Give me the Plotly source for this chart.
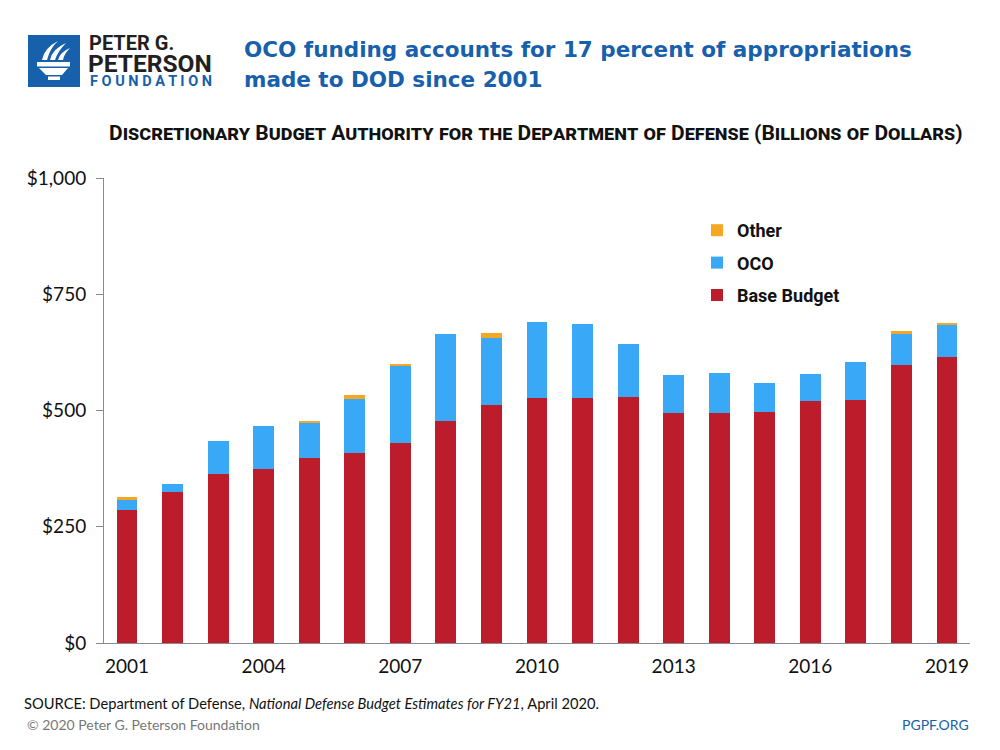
import plotly.graph_objects as go

years = list(range(2001, 2020))
base_budget = [285, 325, 363, 374, 398, 409, 430, 478, 511, 526, 526, 529, 494, 494, 496, 520, 522, 597, 615]
oco = [23, 18, 72, 92, 77, 116, 165, 187, 146, 164, 160, 115, 82, 86, 64, 59, 83, 67, 69]
other = [7, 0, 0, 0, 3, 9, 6, 0, 9, 0, 0, 0, 0, 0, 0, 0, 0, 6, 4]
tick_years = [2001, 2004, 2007, 2010, 2013, 2016, 2019]
y_ticks = [0, 250, 500, 750, 1000]
y_labels = ["$0", "$250", "$500", "$750", "$1,000"]

RED = "#BD1C2B"
BLUE = "#39A9F7"
ORANGE = "#F5A623"
NAVY = "#1760AC"

L, R, T, B = 104, 30, 178, 107
W, H = 1000, 750
PW, PH = W - L - R, H - T - B


def px(x):
    return (x - L) / PW


def py(y):
    return (H - B - y) / PH


xs = list(range(len(years)))
fig = go.Figure()
for name, vals, col, rank in [("Base Budget", base_budget, RED, 3), ("OCO", oco, BLUE, 2), ("Other", other, ORANGE, 1)]:
    fig.add_trace(go.Bar(x=xs, y=vals, name=name, marker=dict(color=col, line=dict(width=0)),
                         width=0.46, legendgroup=name, legendrank=rank))

head = "Roboto, sans-serif"
titlefont = "DejaVu Sans, sans-serif"
body = "Lato, Open Sans, sans-serif"

annotations = [
    dict(text="OCO funding accounts for 17 percent of appropriations",
         x=px(242), y=py(49), xanchor="left", yanchor="middle",
         font=dict(family=titlefont, size=21.5, color=NAVY, weight="bold")),
    dict(text="made to DOD since 2001",
         x=px(242), y=py(79), xanchor="left", yanchor="middle",
         font=dict(family=titlefont, size=21.5, color=NAVY, weight="bold")),
    dict(text="Discretionary Budget Authority for the Department of Defense (Billions of Dollars)",
         x=px(536), y=py(133), xanchor="center", yanchor="middle",
         font=dict(family=head, size=21, color="#111111", weight="bold", variant="small-caps")),
    dict(text="SOURCE: Department of Defense, <i>National Defense Budget Estimates for FY21</i>, April 2020.",
         x=px(22), y=py(703), xanchor="left", yanchor="middle",
         font=dict(family=body, size=14.7, color="#111111")),
    dict(text="© 2020 Peter G. Peterson Foundation",
         x=px(25), y=py(724), xanchor="left", yanchor="middle",
         font=dict(family=body, size=14, color="#777777")),
    dict(text="PGPF.ORG",
         x=px(971), y=py(724), xanchor="right", yanchor="middle",
         font=dict(family=body, size=14, color=NAVY)),
    dict(text="PETER G.", x=px(87), y=py(43.5), xanchor="left", yanchor="middle",
         font=dict(family=head, size=20, color="#231F20", weight="bold")),
    dict(text="PETERSON", x=px(86), y=py(63), xanchor="left", yanchor="middle",
         font=dict(family=head, size=24.5, color="#231F20", weight="bold")),
    dict(text="F O U N D A T I O N", x=px(88), y=py(82), xanchor="left", yanchor="middle",
         font=dict(family=head, size=14.5, color=NAVY, weight="bold")),
]
for a in annotations:
    a.update(xref="paper", yref="paper", showarrow=False)


def path(points):
    return "M " + " L ".join(f"{px(x)},{py(y)}" for x, y in points) + " Z"


shapes = [
    dict(type="rect", x0=px(28), x1=px(80), y0=py(35), y1=py(87), fillcolor=NAVY, line=dict(width=0)),
    dict(type="path", path=path([(37, 62), (70, 62), (70, 66.5), (37, 66.5)]), fillcolor="white", line=dict(width=0)),
    dict(type="path", path=path([(39, 68), (68, 68), (62, 75), (46, 75)]), fillcolor="white", line=dict(width=0)),
    dict(type="path", path=path([(48, 76.5), (60, 76.5), (60, 80), (48, 80)]), fillcolor="white", line=dict(width=0)),
]
flames = [
    f"M {px(42)},{py(60)} Q {px(44)},{py(48)} {px(58)},{py(41)} Q {px(50)},{py(48)} {px(47)},{py(60)} Z",
    f"M {px(50)},{py(60)} Q {px(52)},{py(49)} {px(66)},{py(43)} Q {px(58)},{py(51)} {px(55)},{py(60)} Z",
    f"M {px(58)},{py(60)} Q {px(60)},{py(52)} {px(70)},{py(48)} Q {px(64)},{py(54)} {px(63)},{py(60)} Z",
]
for f in flames:
    shapes.append(dict(type="path", path=f, fillcolor="white", line=dict(width=0)))
for s in shapes:
    s.update(xref="paper", yref="paper", layer="above")

fig.update_layout(
    width=W, height=H,
    margin=dict(l=L, r=R, t=T, b=B),
    paper_bgcolor="white", plot_bgcolor="white",
    barmode="stack", bargap=0,
    showlegend=True,
    legend=dict(x=px(697), y=py(212), xanchor="left", yanchor="top",
                traceorder="grouped", tracegroupgap=6,
                font=dict(family=head, size=18, color="#111111", weight="bold"),
                bgcolor="rgba(0,0,0,0)"),
    xaxis=dict(range=[-0.505, 18.505], tickmode="array",
               tickvals=[years.index(y) for y in tick_years], ticktext=[str(y) for y in tick_years],
               showline=True, linecolor="#8a8a8a", linewidth=1, ticks="", showgrid=False,
               zeroline=False, tickfont=dict(family=body, size=19, color="#111111"),
               ticklabelstandoff=6, fixedrange=True),
    yaxis=dict(range=[0, 1000], tickmode="array", tickvals=y_ticks, ticktext=y_labels,
               showline=True, linecolor="#8a8a8a", linewidth=1, ticks="outside", ticklen=7,
               tickcolor="#8a8a8a", showgrid=False, zeroline=False,
               tickfont=dict(family=body, size=19, color="#111111"),
               ticklabelstandoff=6, fixedrange=True),
    annotations=annotations,
    shapes=shapes,
    font=dict(family=body),
)

fig.write_html("out.html", config={"displayModeBar": False},
               post_script="document.body.style.margin='0';")
